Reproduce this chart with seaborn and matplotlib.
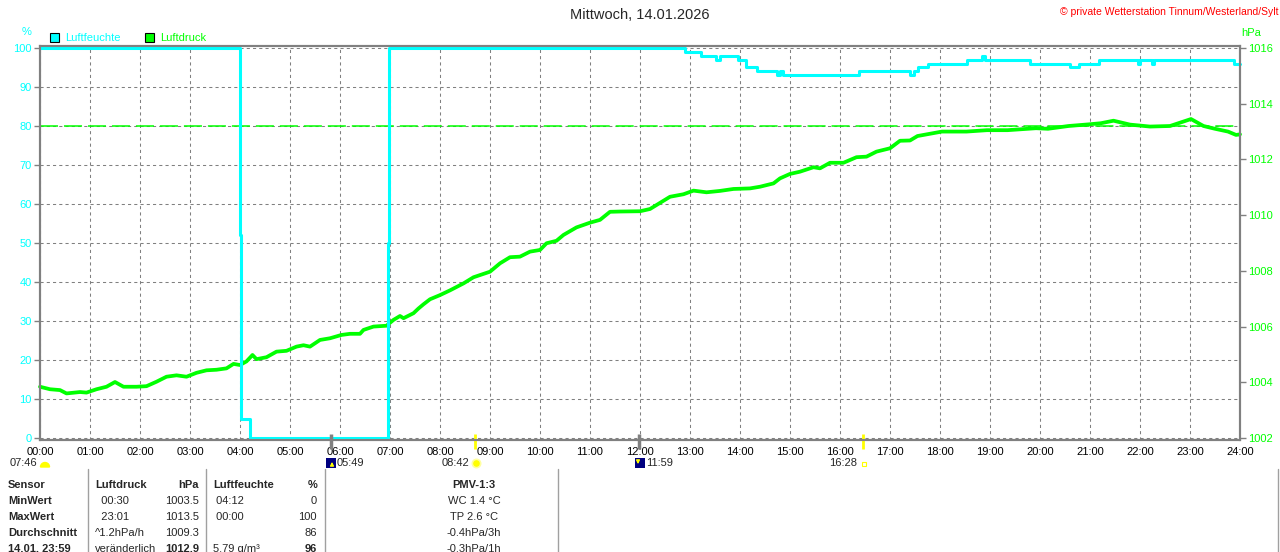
import numpy as np
import pandas as pd
import matplotlib
matplotlib.use("Agg")
import matplotlib.pyplot as plt
from matplotlib.patches import Rectangle, Wedge
from matplotlib.transforms import blended_transform_factory
import seaborn as sns

# Luftfeuchte (%), step data: time in hours, value from that time on
hum_t = [0.0, 4.0, 4.017, 4.2, 6.967, 6.983, 12.9, 13.22, 13.51, 13.59,
         13.96, 14.12, 14.33, 14.73, 14.8, 14.86, 16.37, 17.39, 17.49, 17.55,
         17.76, 18.53, 18.84, 18.9, 19.8, 20.6, 20.78, 21.18, 21.96, 22.0,
         22.24, 22.28, 23.88, 24.0]
hum_v = [100, 52, 5, 0, 50, 100, 99, 98, 97, 98,
         97, 95, 94, 93, 94, 93, 94, 93, 94, 95,
         96, 97, 98, 97, 96, 95, 96, 97, 96, 97,
         96, 97, 96, 96]

# Luftdruck (hPa)
pres_t = [0.0, 0.2, 0.4, 0.53, 0.8, 0.93, 1.13, 1.33, 1.5, 1.67, 1.93, 2.13,
          2.33, 2.53, 2.73, 2.93, 3.13, 3.33, 3.53, 3.73, 3.87, 4.0, 4.13,
          4.25, 4.33, 4.53, 4.73, 4.93, 5.13, 5.27, 5.4, 5.6, 5.8, 6.03, 6.2,
          6.4, 6.47, 6.67, 6.93, 7.07, 7.2, 7.27, 7.47, 7.57, 7.67, 7.8, 8.0,
          8.2, 8.47, 8.67, 9.0, 9.2, 9.4, 9.6, 9.8, 10.0, 10.13, 10.33, 10.47,
          10.73, 11.0, 11.2, 11.4, 11.6, 12.0, 12.2, 12.4, 12.6, 12.87, 13.07,
          13.33, 13.6, 13.87, 14.2, 14.4, 14.67, 14.8, 15.0, 15.2, 15.47, 15.6,
          15.8, 16.07, 16.33, 16.53, 16.73, 17.0, 17.2, 17.4, 17.55, 18.04,
          18.53, 18.94, 19.35, 19.92, 20.16, 20.57, 20.98, 21.22, 21.47, 21.8,
          22.2, 22.6, 23.02, 23.27, 23.5, 23.76, 23.92, 24.0]
pres_v = [1003.84, 1003.75, 1003.72, 1003.6, 1003.65, 1003.63, 1003.75, 1003.84,
          1004.01, 1003.84, 1003.84, 1003.86, 1004.02, 1004.2, 1004.25, 1004.2,
          1004.34, 1004.43, 1004.45, 1004.5, 1004.66, 1004.62, 1004.75, 1004.98,
          1004.83, 1004.9, 1005.1, 1005.13, 1005.28, 1005.33, 1005.28, 1005.52,
          1005.58, 1005.7, 1005.74, 1005.74, 1005.88, 1006.0, 1006.03, 1006.24,
          1006.38, 1006.3, 1006.48, 1006.65, 1006.8, 1006.98, 1007.13, 1007.3,
          1007.55, 1007.77, 1007.97, 1008.27, 1008.49, 1008.51, 1008.69, 1008.75,
          1008.99, 1009.08, 1009.29, 1009.56, 1009.73, 1009.83, 1010.12, 1010.13,
          1010.14, 1010.22, 1010.44, 1010.66, 1010.75, 1010.88, 1010.82, 1010.87,
          1010.94, 1010.96, 1011.02, 1011.14, 1011.32, 1011.48, 1011.56, 1011.72,
          1011.68, 1011.88, 1011.88, 1012.08, 1012.1, 1012.28, 1012.4, 1012.67,
          1012.68, 1012.84, 1013.0, 1013.0, 1013.05, 1013.05, 1013.12, 1013.1,
          1013.2, 1013.26, 1013.3, 1013.39, 1013.25, 1013.18, 1013.2, 1013.45,
          1013.2, 1013.1, 1013.0, 1012.88, 1012.9]

ref_pressure = 1013.2

hour_labels = ["%02d:00" % h for h in range(25)]
hum_ticks = list(range(0, 101, 10))
pres_ticks = list(range(1002, 1017, 2))

# sun / moon events (hours)
moonrise, sunrise, moonset, sunset = 5 + 49 / 60, 8 + 42 / 60, 11 + 59 / 60, 16 + 28 / 60

# table below the chart
row_names = ["Sensor", "MinWert", "MaxWert", "Durchschnitt", "14.01. 23:59"]
druck_info = ["Luftdruck", "  00:30", "  23:01", "^1.2hPa/h", "veränderlich"]
druck_vals = ["hPa", "1003.5", "1013.5", "1009.3", "1012.9"]
feuchte_info = ["Luftfeuchte", " 04:12", " 00:00", "", "5.79 g/m³"]
feuchte_vals = ["%", "0", "100", "86", "96"]
pmv_info = ["PMV-1:3", "WC 1.4 °C", "TP 2.6 °C", "-0.4hPa/3h", "-0.3hPa/1h"]

CYAN = "#00ffff"
GREEN = "#00ff00"
GRAY = "#808080"

sns.set_style("white")
plt.rcParams["font.family"] = ["Liberation Sans", "DejaVu Sans"]

W, H = 1280, 552
fig = plt.figure(figsize=(W / 100, H / 100), dpi=100)

pad_pct = 0.4
ax = fig.add_axes([40 / W, (H - 438 - 390 * pad_pct / 100) / H,
                   1200 / W, 390 * (100 + 2 * pad_pct) / 100 / H])
ax2 = ax.twinx()

df_p = pd.DataFrame({"t": pres_t, "p": pres_v})
df_h = pd.DataFrame({"t": hum_t, "h": hum_v})

# everything is drawn in ax (so the grid stays below), pressure uses the right scale
ax.plot([0, 1], [ref_pressure, ref_pressure], color=GREEN, lw=1.1,
        linestyle=(0, (11.8, 3.9)),
        transform=blended_transform_factory(ax.transAxes, ax2.transData), zorder=2)
sns.lineplot(data=df_p, x="t", y="p", ax=ax, color=GREEN, lw=2.7,
             estimator=None, sort=False, transform=ax2.transData, zorder=3)
sns.lineplot(data=df_h, x="t", y="h", ax=ax, color=CYAN, lw=2.2,
             estimator=None, sort=False, drawstyle="steps-post", zorder=4)
for l in ax.lines[1:]:
    l.set_clip_on(False)

ax.set_xlim(0, 24)
ax.set_ylim(-pad_pct, 100 + pad_pct)
ax2.set_ylim(1002 - 0.14 * pad_pct, 1016 + 0.14 * pad_pct)

ax.set_xticks(range(25))
ax.set_xticklabels(hour_labels)
ax.set_yticks(hum_ticks)
ax.set_yticklabels([str(v) for v in hum_ticks])
ax2.set_yticks(pres_ticks)
ax2.set_yticklabels([str(v) for v in pres_ticks])
for a in (ax, ax2):
    a.set_xlabel("")
    a.set_ylabel("")

ax.grid(True, color=GRAY, lw=0.75, linestyle=(0, (3, 3)), zorder=1)
ax.set_axisbelow(True)
ax.tick_params(axis="x", length=0, pad=5.5, labelsize=8, labelcolor="black")
ax.tick_params(axis="y", length=4.3, width=1, color=GRAY, pad=1.5,
               labelsize=8, labelcolor=CYAN)
ax2.tick_params(axis="y", length=4.3, width=1, color=GRAY, pad=1.5,
                labelsize=8, labelcolor=GREEN)
for a in (ax, ax2):
    for s in a.spines.values():
        s.set_color(GRAY)
        s.set_linewidth(1.5)

# event marks on the time axis
tr = blended_transform_factory(ax.transData, ax.transAxes)
ax.vlines([sunrise, sunset], -0.023, 0.013, transform=tr, color="#ffff00",
          lw=2, clip_on=False, zorder=5)
ax.vlines([moonrise, moonset], -0.023, 0.013, transform=tr, color=GRAY,
          lw=2.5, clip_on=False, zorder=5)

# overlay in pixel coordinates for texts and table
ov = fig.add_axes([0, 0, 1, 1])
ov.set_xlim(0, W)
ov.set_ylim(H, 0)
ov.axis("off")
ov.patch.set_visible(False)

ov.text(640, 15, "Mittwoch, 14.01.2026", ha="center", va="center", fontsize=10.5)
ov.text(1278, 12, "© private Wetterstation Tinnum/Westerland/Sylt", ha="right",
        va="center", fontsize=7.5, color="red")
ov.text(27, 32, "%", ha="center", va="center", fontsize=8, color=CYAN)
ov.text(1241, 33, "hPa", ha="left", va="center", fontsize=8, color=GREEN)

ov.add_patch(Rectangle((50, 33), 9, 9, facecolor=CYAN, edgecolor="black", lw=0.8))
ov.text(65, 38, "Luftfeuchte", ha="left", va="center", fontsize=8, color=CYAN)
ov.add_patch(Rectangle((145, 33), 9, 9, facecolor=GREEN, edgecolor="black", lw=0.8))
ov.text(160, 38, "Luftdruck", ha="left", va="center", fontsize=8, color=GREEN)

# sun and moon row
ev_y = 463
ov.text(10, ev_y, "07:46", ha="left", va="center", fontsize=8)
ov.add_patch(Wedge((45, 467), 4.5, 180, 360, color="#ffff00"))
ov.add_patch(Rectangle((326, 458), 10, 10, facecolor="#000080", edgecolor="none"))
ov.annotate("", xy=(332, 459), xytext=(332, 468),
            arrowprops=dict(arrowstyle="-|>", color="#ffff00", lw=1, mutation_scale=5))
ov.text(337, ev_y, "05:49", ha="left", va="center", fontsize=8)
ov.text(469, ev_y, "08:42", ha="right", va="center", fontsize=8)
ov.plot([476], [ev_y], marker="o", ms=6, mfc="#ffff00", mec="#ffffa0", mew=1.2)
ov.add_patch(Rectangle((635, 458), 10, 10, facecolor="#000080", edgecolor="none"))
ov.annotate("", xy=(638, 467), xytext=(638, 458),
            arrowprops=dict(arrowstyle="-|>", color="#ffff00", lw=1, mutation_scale=5))
ov.text(646, ev_y, "11:59", ha="left", va="center", fontsize=8)
ov.text(857, ev_y, "16:28", ha="right", va="center", fontsize=8)
ov.add_patch(Rectangle((862, 462), 4, 4, facecolor="none", edgecolor="#ffff00", lw=0.8))

# table
row_y = [485, 501, 517, 533, 549]
for xs in (88, 206, 325, 558, 1278):
    ov.plot([xs, xs], [469, H], color="#a0a0a0", lw=1)
for i, y in enumerate(row_y):
    wt = "bold" if i in (0, 4) else "normal"
    ov.text(8, y, row_names[i], ha="left", va="center", fontsize=8, fontweight="bold")
    ov.text(95, y, druck_info[i], ha="left", va="center", fontsize=8,
            fontweight="bold" if i == 0 else "normal")
    ov.text(199, y, druck_vals[i], ha="right", va="center", fontsize=8, fontweight=wt)
    ov.text(213, y, feuchte_info[i], ha="left", va="center", fontsize=8,
            fontweight="bold" if i == 0 else "normal")
    ov.text(317, y, feuchte_vals[i], ha="right", va="center", fontsize=8, fontweight=wt)
    ov.text(474, y, pmv_info[i], ha="center", va="center", fontsize=8,
            fontweight="bold" if i == 0 else "normal")

fig.savefig("out.png", dpi=100, facecolor="white")
